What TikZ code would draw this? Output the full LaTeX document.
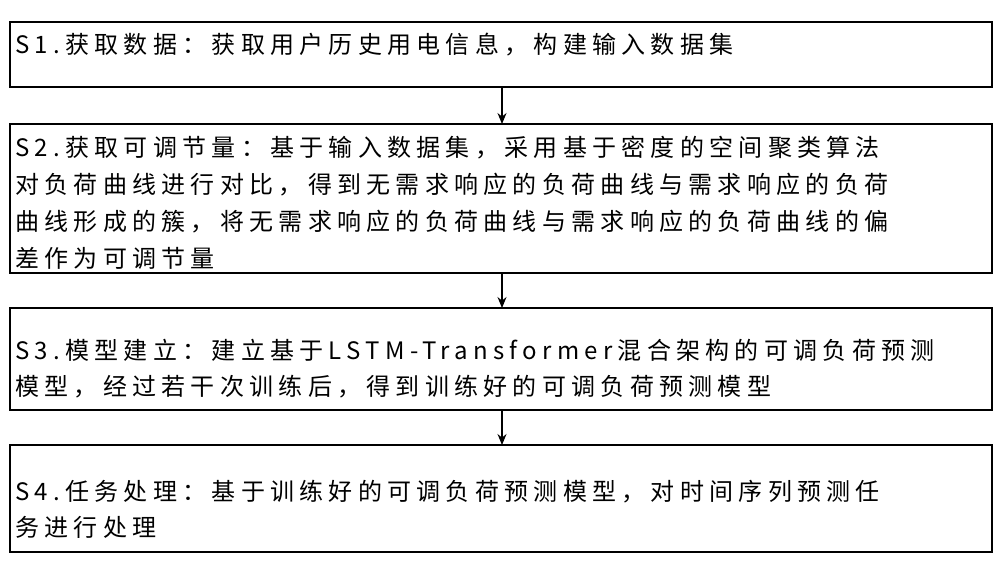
\documentclass[tikz,border=0pt]{standalone}
\usepackage{fontspec}
\usetikzlibrary{arrows.meta}
\newfontfamily\cjk[LetterSpace=22]{Noto Sans CJK SC}
\begin{document}
\begin{tikzpicture}[x=1pt,y=-1pt,
  box/.style={draw,line width=1.2pt},
  ln/.style={anchor=west,inner sep=0pt,font=\cjk\fontsize{24}{24}\selectfont},
  arr/.style={-{Stealth[length=11pt,width=9pt]},line width=1.2pt}]
\useasboundingbox (0,0) rectangle (1000,562);
\draw[box] (10,22) rectangle (992,87);
\draw[box] (10,124) rectangle (992,273);
\draw[box] (10,308) rectangle (992,410);
\draw[box] (10,445) rectangle (992,552);
\node[ln] (a1) at (15,45) {S1.获取数据：获取用户历史用电信息，构建输入数据集};
\node[ln] (b1) at (15,148) {S2.获取可调节量：基于输入数据集，采用基于密度的空间聚类算法};
\node[ln] (b2) at (15,185) {对负荷曲线进行对比，得到无需求响应的负荷曲线与需求响应的负荷};
\node[ln] (b3) at (15,222) {曲线形成的簇，将无需求响应的负荷曲线与需求响应的负荷曲线的偏};
\node[ln] (b4) at (15,258) {差作为可调节量};
\node[ln] (c1) at (15,350) {S3.模型建立：建立基于LSTM-Transformer混合架构的可调负荷预测};
\node[ln] (c2) at (15,387) {模型，经过若干次训练后，得到训练好的可调负荷预测模型};
\node[ln] (d1) at (15,492) {S4.任务处理：基于训练好的可调负荷预测模型，对时间序列预测任};
\node[ln] (d2) at (15,527) {务进行处理};
\coordinate (p1) at (502,87); \coordinate (q1) at (502,124);
\coordinate (p2) at (502,273); \coordinate (q2) at (502,308);
\coordinate (p3) at (502,410); \coordinate (q3) at (502,445);
\draw[arr] (p1)--(q1); \draw[arr] (p2)--(q2); \draw[arr] (p3)--(q3);
\end{tikzpicture}
\end{document}
